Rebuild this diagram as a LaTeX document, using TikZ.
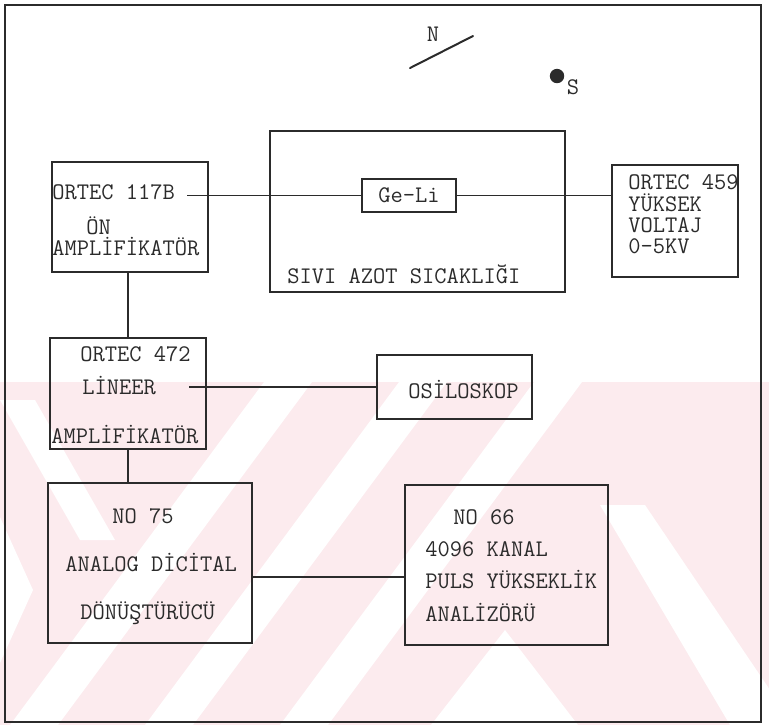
\documentclass[tikz,border=0pt]{standalone}
\usepackage{fontspec}
\usetikzlibrary{positioning}
\definecolor{ink}{HTML}{2B2B2B}
\definecolor{wmpink}{HTML}{FCEBEE}

\begin{document}
\begin{tikzpicture}[
    x=0.5pt, y=-0.5pt,
    box/.style={draw=ink, line width=0.85pt, inner sep=0pt},
    lbl/.style={anchor=base west, inner sep=0pt, text=ink, font=\ttfamily\fontsize{11.9}{14}\selectfont},
    wire/.style={draw=ink, line width=0.85pt},
]
    \useasboundingbox (0,0) rectangle (769,725);

    % watermark in the lower half
    \begin{scope}
        \clip (0,382) rectangle (769,725);
        \fill[wmpink] (0,382) rectangle (769,725);
        \foreach \b in {10,145,280}
            \fill[white] (\b,725) -- ++(48,0) -- ++(254,-343) -- ++(-48,0) -- cycle;
        \fill[white] (431,725) -- (578,725) -- (505,630) -- cycle;
        \fill[white] (600,505) -- (645,505) -- (770,690) -- (770,725) -- (730,725) -- cycle;
        \fill[white] (0,400) -- (35,400) -- (115,540) -- (80,540) -- cycle;
        \fill[white] (0,517) -- (33,590) -- (0,663) -- cycle;
    \end{scope}

    % frame
    \draw[ink, line width=1pt] (5,5) rectangle (761,722);

    % magnet poles
    \draw[ink, line width=1pt, line cap=round] (410,68) -- (473,36);
    \node[lbl, anchor=center] (pn) at (433,34) {N};
    \fill[ink] (557,76) circle (3.6pt);
    \node[lbl, anchor=center] (ps) at (573,87) {S};

    % boxes
    \node[box, minimum width=78pt, minimum height=55pt] (pre) at (130,217) {};
    \node[box, minimum width=147.5pt, minimum height=80.5pt] (dewar) at (417.5,211.5) {};
    \node[box, minimum width=47pt, minimum height=16.5pt, text=ink, font=\ttfamily\fontsize{11.9}{14}\selectfont] (geli) at (409,195.5) {Ge-Li};
    \node[box, minimum width=63pt, minimum height=56pt] (hv) at (675,221) {};
    \node[box, minimum width=78pt, minimum height=55.5pt] (amp) at (128,393.5) {};
    \node[box, minimum width=77.5pt, minimum height=32pt] (osc) at (454.5,387) {};
    \node[box, minimum width=102pt, minimum height=80pt] (adc) at (150,563) {};
    \node[box, minimum width=101.5pt, minimum height=80pt] (pha) at (506.5,565) {};

    % texts
    \node[lbl] (pre1) at (52,199) {ORTEC 117B};
    \node[lbl] (pre2) at (86,234) {ÖN};
    \node[lbl] (pre3) at (52,255) {AMPLİFİKATÖR};
    \node[lbl] (dewar1) at (287,283) {SIVI AZOT SICAKLIĞI};
    \node[lbl] (hv1) at (628,189) {ORTEC 459};
    \node[lbl] (hv2) at (628,211) {YÜKSEK};
    \node[lbl] (hv3) at (628,232) {VOLTAJ};
    \node[lbl] (hv4) at (628,253) {0-5KV};
    \node[lbl] (amp1) at (80,361) {ORTEC 472};
    \node[lbl] (amp2) at (82,394) {LİNEER};
    \node[lbl] (amp3) at (51,443) {AMPLİFİKATÖR};
    \node[lbl] (osc1) at (408,398) {OSİLOSKOP};
    \node[lbl] (adc1) at (112,523) {NO 75};
    \node[lbl] (adc2) at (65,571) {ANALOG DİCİTAL};
    \node[lbl] (adc3) at (80,619) {DÖNÜŞTÜRÜCÜ};
    \node[lbl] (pha1) at (453,524) {NO 66};
    \node[lbl] (pha2) at (425,556) {4096 KANAL};
    \node[lbl] (pha3) at (425,588) {PULS YÜKSEKLİK};
    \node[lbl] (pha4) at (425,621) {ANALİZÖRÜ};

    % wires
    \draw[wire] (pre1.east |- geli.west) ++(12,0) -- (geli.west);
    \draw[wire] (geli.east) -- (geli.east -| hv.west);
    \draw[wire] (amp.north) -- (amp.north |- pre.south);
    \draw[wire] (amp2.east |- osc.west) ++(33,0) -- (osc.west);
    \draw[wire] (amp.south) -- (amp.south |- adc.north);
    \draw[wire] ([yshift=-7pt]adc.east) -- ([yshift=-7pt]adc.east -| pha.west);

\end{tikzpicture}
\end{document}
